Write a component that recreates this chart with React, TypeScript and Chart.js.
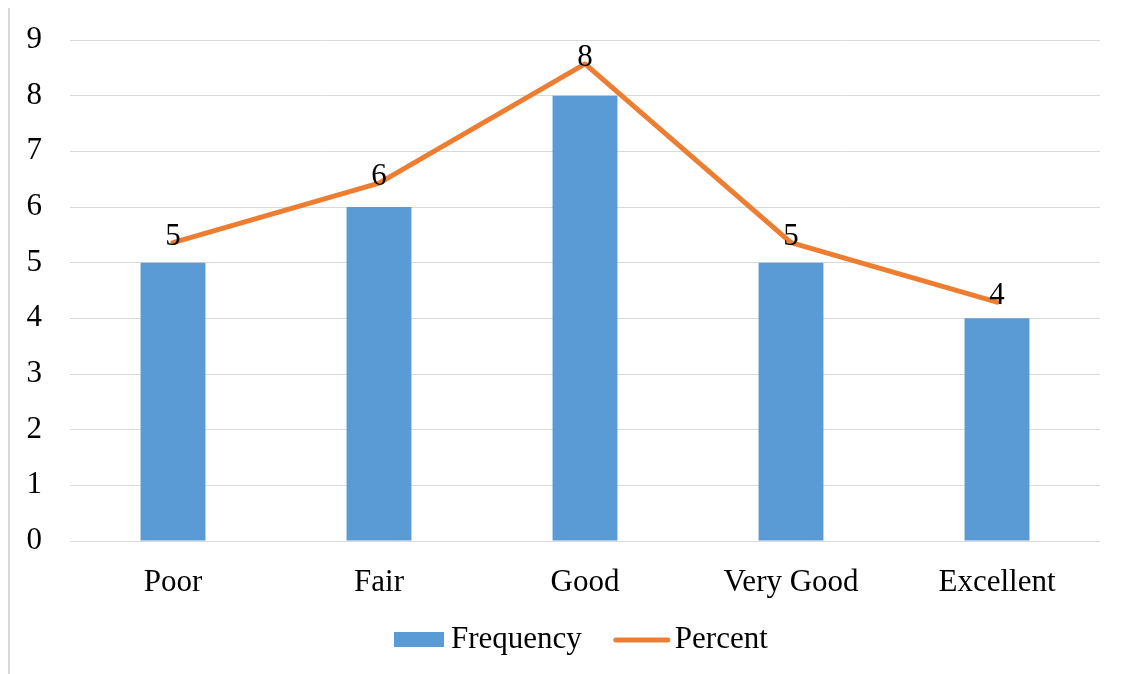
import React, { useEffect, useRef } from "react";
import { Chart, registerables } from "chart.js";

Chart.register(...registerables);

const categories = ["Poor", "Fair", "Good", "Very Good", "Excellent"];
const frequency = [5, 6, 8, 5, 4];
const percentLine = [5.36, 6.43, 8.57, 5.36, 4.29];
const frequencyLabels = ["5", "6", "8", "5", "4"];
const yTicks = [0, 1, 2, 3, 4, 5, 6, 7, 8, 9];

const FONT = "'Liberation Serif', 'Times New Roman', serif";
const BLUE = "#5B9BD5";
const ORANGE = "#ED7D31";

export default function App() {
  const ref = useRef<HTMLCanvasElement | null>(null);

  useEffect(() => {
    document.body.style.overflow = "hidden";
    const canvas = ref.current;
    if (!canvas) return;

    const labelPlugin = {
      id: "lineLabels",
      afterDatasetsDraw(chart: any) {
        const meta = chart.getDatasetMeta(1);
        const ctx = chart.ctx;
        ctx.save();
        ctx.font = `31px ${FONT}`;
        ctx.fillStyle = "#000";
        ctx.textAlign = "center";
        ctx.textBaseline = "middle";
        meta.data.forEach((pt: any, i: number) => {
          ctx.fillText(frequencyLabels[i], pt.x, pt.y - 6);
        });
        ctx.restore();
      },
    };

    const legendPlugin = {
      id: "customLegend",
      afterDraw(chart: any) {
        const ctx = chart.ctx;
        ctx.save();
        ctx.font = `31px ${FONT}`;
        ctx.fillStyle = "#000";
        ctx.textBaseline = "middle";
        ctx.textAlign = "left";
        const y = 632;
        let x = 384;
        ctx.fillStyle = BLUE;
        ctx.fillRect(x, y - 8, 50, 15);
        x += 57;
        ctx.fillStyle = "#000";
        ctx.fillText(chart.data.datasets[0].label, x, y);
        x += ctx.measureText(chart.data.datasets[0].label).width + 32;
        ctx.strokeStyle = ORANGE;
        ctx.lineWidth = 5;
        ctx.lineCap = "round";
        ctx.beginPath();
        ctx.moveTo(x + 2, y);
        ctx.lineTo(x + 54, y);
        ctx.stroke();
        x += 61;
        ctx.fillText(chart.data.datasets[1].label, x, y);
        ctx.restore();
      },
    };

    const chart = new Chart(canvas, {
      type: "bar",
      data: {
        labels: categories,
        datasets: [
          {
            type: "bar",
            label: "Frequency",
            data: frequency,
            backgroundColor: BLUE,
            barPercentage: 0.315,
            categoryPercentage: 1,
            order: 2,
          },
          {
            type: "line",
            label: "Percent",
            data: percentLine,
            borderColor: ORANGE,
            backgroundColor: ORANGE,
            borderWidth: 5,
            pointRadius: 0,
            borderCapStyle: "round",
            borderJoinStyle: "round",
            tension: 0,
            order: 1,
          },
        ],
      } as any,
      options: {
        responsive: false,
        animation: false,
        layout: { padding: { top: 32, right: 31, bottom: 0, left: 0 } },
        plugins: {
          legend: { display: false },
          tooltip: { enabled: false },
        },
        scales: {
          x: {
            grid: { display: false, drawTicks: false },
            border: { display: false },
            ticks: {
              font: { family: FONT, size: 31 },
              color: "#000",
              padding: 23,
            },
            afterFit(scale: any) {
              scale.height = 125;
              scale.paddingLeft = 0;
              scale.paddingRight = 0;
            },
          },
          y: {
            min: 0,
            max: 9,
            afterBuildTicks(scale: any) {
              scale.ticks = yTicks.map((v) => ({ value: v }));
            },
            grid: { color: "#d9d9d9", lineWidth: 1, drawTicks: false },
            border: { display: false },
            ticks: {
              font: { family: FONT, size: 31 },
              color: "#000",
              padding: 28,
            },
            afterFit(scale: any) {
              scale.width = 60;
              scale.paddingTop = 0;
              scale.paddingBottom = 0;
            },
          },
        },
      } as any,
      plugins: [labelPlugin, legendPlugin],
    });

    return () => chart.destroy();
  }, []);

  return (
    <div
      style={{
        width: 1123,
        height: 666,
        borderLeft: "2px solid #d9d9d9",
        boxSizing: "border-box",
      }}
    >
      <canvas ref={ref} width={1121} height={658} style={{ display: "block" }} />
    </div>
  );
}
